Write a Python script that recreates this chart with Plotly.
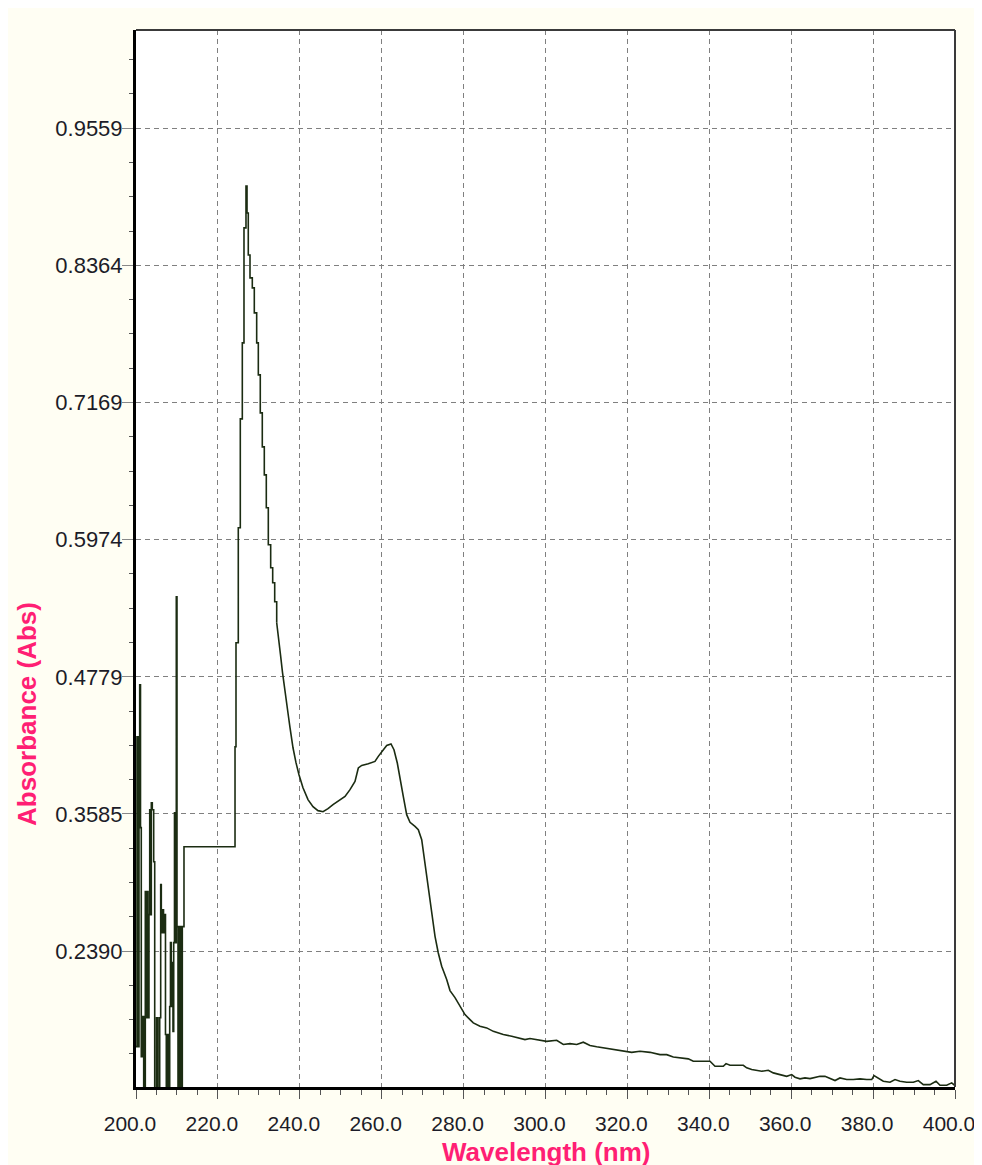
import plotly.graph_objects as go

# ---------------- data ----------------
# noisy start + main 227 nm band, drawn as instrument steps
wl_noise = [200.00, 200.24, 200.49, 200.73, 200.90, 201.10, 201.29, 201.59, 201.88, 202.27,
            202.52, 202.69, 202.93, 203.17, 203.35, 203.54, 203.74, 203.98, 204.32, 204.57,
            205.01, 205.37, 205.79, 206.03, 206.18, 206.47, 206.72, 207.01, 207.20, 207.40,
            207.69, 207.99, 208.23, 208.42, 208.62, 208.86, 209.03, 209.21, 209.40, 209.60,
            209.84, 210.01, 210.26, 210.62, 210.92, 211.31, 211.72, 224.18, 224.42, 224.98,
            225.47, 225.96, 226.37, 226.86, 227.11, 227.42, 227.84, 228.40, 228.89, 229.47,
            229.87, 230.35, 230.84, 231.33, 231.82, 232.31, 232.89, 233.38, 233.87, 234.36]
abs_noise = [0.1557, 0.4257, 0.1557, 0.4257, 0.4710, 0.3465, 0.1470, 0.1818, 0.1050, 0.2907,
             0.1809, 0.2907, 0.1809, 0.2707, 0.3621, 0.2707, 0.3682, 0.3621, 0.3168, 0.1050,
             0.1809, 0.1050, 0.1809, 0.2968, 0.2550, 0.2750, 0.2550, 0.2707, 0.1662, 0.1050,
             0.1662, 0.1050, 0.1906, 0.2463, 0.1906, 0.2289, 0.1688, 0.2463, 0.3595, 0.2463,
             0.5477, 0.2602, 0.1050, 0.2602, 0.1050, 0.2602, 0.3299, 0.4170, 0.5076, 0.6078,
             0.7027, 0.7689, 0.8691, 0.9056, 0.8821, 0.8455, 0.8255, 0.8168, 0.7950, 0.7689,
             0.7410, 0.7079, 0.6783, 0.6539, 0.6252, 0.5930, 0.5729, 0.5599, 0.5433, 0.5250]

# rest of the spectrum
wl_band = [234.36, 234.75, 235.29, 235.78, 236.26, 236.75, 237.24, 237.61, 238.34, 239.07,
           239.80, 240.78, 242.00, 243.22, 244.44, 245.67, 246.89, 248.11, 249.82, 251.04,
           252.26, 253.48, 254.29, 255.12, 256.73, 258.36, 259.17, 260.39, 261.22, 262.27,
           263.00, 263.81, 264.47, 265.27, 266.10, 266.91, 268.13, 268.94, 269.77, 270.57,
           271.38, 272.21, 273.02, 273.82, 274.65, 275.87, 276.68, 277.90, 279.12, 280.34,
           281.56, 282.37, 284.00, 285.64, 287.25, 289.69, 291.75, 293.77, 294.99, 296.21,
           298.66, 300.29, 302.73, 304.35, 305.98, 307.62, 309.23, 310.87, 312.50, 314.11,
           315.75, 317.39, 319.41, 321.05, 323.08, 325.52, 327.96, 329.60, 331.21, 332.84,
           334.87, 336.09, 340.17, 341.39, 343.42, 344.08, 345.05, 348.30, 349.13, 350.35,
           351.57, 352.80, 354.41, 355.63, 357.26, 358.90, 360.12, 360.93, 362.15, 363.37,
           364.59, 365.81, 367.03, 368.25, 369.47, 370.70, 371.92, 373.55, 375.16, 376.80,
           378.44, 379.66, 380.22, 381.27, 382.49, 384.13, 385.35, 386.57, 388.20, 389.82,
           391.04, 392.26, 393.89, 395.36, 396.34, 397.97, 399.19, 400.00]
abs_band = [0.5250, 0.5146, 0.4971, 0.4815, 0.4675, 0.4545, 0.4431, 0.4336, 0.4161, 0.4031,
            0.3926, 0.3813, 0.3709, 0.3648, 0.3613, 0.3604, 0.3630, 0.3665, 0.3709, 0.3737,
            0.3796, 0.3868, 0.3985, 0.4007, 0.4022, 0.4042, 0.4086, 0.4144, 0.4181, 0.4194,
            0.4144, 0.4028, 0.3911, 0.3737, 0.3578, 0.3511, 0.3476, 0.3447, 0.3360, 0.3157,
            0.2925, 0.2750, 0.2518, 0.2373, 0.2257, 0.2141, 0.2045, 0.1984, 0.1908, 0.1836,
            0.1792, 0.1764, 0.1734, 0.1720, 0.1690, 0.1662, 0.1647, 0.1633, 0.1618, 0.1627,
            0.1609, 0.1603, 0.1612, 0.1575, 0.1583, 0.1575, 0.1595, 0.1566, 0.1555, 0.1546,
            0.1531, 0.1525, 0.1516, 0.1507, 0.1516, 0.1507, 0.1487, 0.1487, 0.1467, 0.1459,
            0.1450, 0.1429, 0.1429, 0.1386, 0.1386, 0.1409, 0.1394, 0.1394, 0.1372, 0.1357,
            0.1351, 0.1342, 0.1351, 0.1328, 0.1313, 0.1298, 0.1313, 0.1290, 0.1276, 0.1284,
            0.1278, 0.1290, 0.1298, 0.1298, 0.1276, 0.1261, 0.1284, 0.1270, 0.1270, 0.1276,
            0.1270, 0.1270, 0.1305, 0.1284, 0.1255, 0.1246, 0.1270, 0.1255, 0.1246, 0.1246,
            0.1261, 0.1226, 0.1226, 0.1255, 0.1220, 0.1220, 0.1241, 0.1217]

x_ticks = [200, 220, 240, 260, 280, 300, 320, 340, 360, 380, 400]
x_labels = ["200.0", "220.0", "240.0", "260.0", "280.0", "300.0", "320.0", "340.0",
            "360.0", "380.0", "400.0"]
y_ticks = [0.2390, 0.3585, 0.4779, 0.5974, 0.7169, 0.8364, 0.9559]
y_labels = ["0.2390", "0.3585", "0.4779", "0.5974", "0.7169", "0.8364", "0.9559"]

x_title = "Wavelength (nm)"
y_title = "Absorbance (Abs)"

# ---------------- styling ----------------
LINE = "#1b2c12"
PINK = "#FF1F74"
GRID = "#808080"
TICKC = "#555555"
FONT = "Liberation Sans, Arial, sans-serif"

fig = go.Figure()
fig.add_trace(go.Scatter(x=wl_noise, y=abs_noise, mode="lines",
                         line=dict(color=LINE, width=1.6, shape="hv"),
                         showlegend=False, hoverinfo="x+y"))
fig.add_trace(go.Scatter(x=wl_band, y=abs_band, mode="lines",
                         line=dict(color=LINE, width=1.6),
                         showlegend=False, hoverinfo="x+y"))

fig.update_layout(
    width=982, height=1165,
    margin=dict(l=128, r=35, t=22, b=86),
    paper_bgcolor="#FFFEF3", plot_bgcolor="white",
    font=dict(family=FONT, size=22, color="#1c1c28"),
    showlegend=False,
)

fig.update_xaxes(
    range=[200, 400], tickmode="array", tickvals=x_ticks, ticktext=x_labels,
    ticks="outside", ticklen=9, tickwidth=1, tickcolor=TICKC,
    tickfont=dict(size=21), ticklabelstandoff=7, ticklabelshift=-6, automargin=False,
    showline=True, linewidth=3, linecolor="black",
    showgrid=True, gridcolor=GRID, gridwidth=1, griddash="5px,4px",
    zeroline=False,
    minor=dict(tick0=200, dtick=5, ticks="outside", ticklen=5, tickcolor=TICKC,
               tickwidth=1, showgrid=False),
)
fig.update_yaxes(
    range=[0.1205, 1.0415], tickmode="array", tickvals=y_ticks, ticktext=y_labels,
    ticks="outside", ticklen=11, tickwidth=1, tickcolor="#888888",
    ticklabelstandoff=-5, automargin=False,
    showline=True, linewidth=3, linecolor="black",
    showgrid=True, gridcolor=GRID, gridwidth=1, griddash="5px,4px",
    zeroline=False,
    minor=dict(tick0=0.2390, dtick=0.0298718, ticks="outside", ticklen=4,
               tickcolor=TICKC, tickwidth=1, showgrid=False),
)

# top and right frame lines
fig.add_shape(type="line", xref="paper", yref="paper", x0=0, x1=1, y0=1, y1=1,
              line=dict(color="#3a3a3a", width=2))
fig.add_shape(type="line", xref="paper", yref="paper", x0=1, x1=1, y0=0, y1=1,
              line=dict(color="#3a3a3a", width=2))

# axis titles
fig.add_annotation(text=f"<b>{y_title}</b>", xref="paper", yref="paper",
                   x=-0.133, y=0.353, textangle=-90, showarrow=False,
                   xanchor="center", yanchor="middle",
                   font=dict(family=FONT, size=26, color=PINK))
fig.add_annotation(text=f"<b>{x_title}</b>", xref="paper", yref="paper",
                   x=0.5006, y=-0.045, showarrow=False,
                   xanchor="center", yanchor="top",
                   font=dict(family=FONT, size=26, color=PINK))

fig.write_html("out.html")
